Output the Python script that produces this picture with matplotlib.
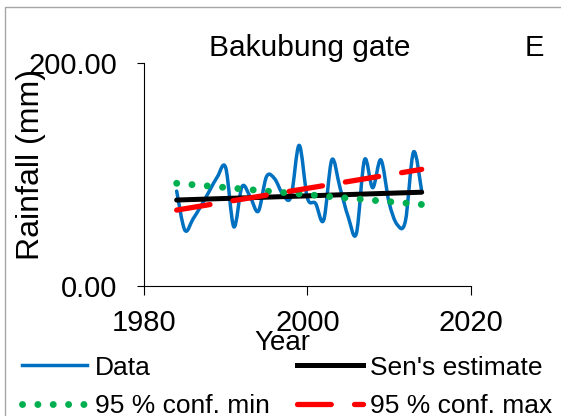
import matplotlib
matplotlib.use("Agg")
import matplotlib.pyplot as plt
from matplotlib.path import Path
from matplotlib.patches import PathPatch, Rectangle
from matplotlib.lines import Line2D

plt.rcParams['font.family'] = ['Liberation Sans', 'DejaVu Sans']

# ---- data ----
years = list(range(1984, 2015))
rainfall = [85, 50, 60, 72, 85, 98, 106, 53, 89, 80, 67, 98, 96, 82, 80, 126,
            79, 74, 59, 113, 88, 62, 47, 113, 88, 113, 75, 55, 58, 120, 85]
trend_years = [1984, 2014]
sen_estimate = [77, 84]
conf_min = [92, 73]
conf_max = [68, 104.5]
title = "Bakubung gate"
panel = "E"
x_ticks = [1980, 2000, 2020]
y_ticks = [0, 200]

W, H = 561, 416
fig = plt.figure(figsize=(W / 100, H / 100), dpi=100)
ax = fig.add_axes([144 / W, 1 - 286 / H, (470.7 - 144) / W, (286 - 62.7) / H])

# smoothed data line (Excel-like Bezier through the points)
verts = [(years[0], rainfall[0])]
codes = [Path.MOVETO]
n = len(years)
for i in range(n - 1):
    p0 = (years[max(i - 1, 0)], rainfall[max(i - 1, 0)])
    p1 = (years[i], rainfall[i])
    p2 = (years[i + 1], rainfall[i + 1])
    p3 = (years[min(i + 2, n - 1)], rainfall[min(i + 2, n - 1)])
    c1 = (p1[0] + (p2[0] - p0[0]) / 6, p1[1] + (p2[1] - p0[1]) / 6)
    c2 = (p2[0] - (p3[0] - p1[0]) / 6, p2[1] - (p3[1] - p1[1]) / 6)
    verts += [c1, c2, p2]
    codes += [Path.CURVE4] * 3
blue = '#0070C0'
green = '#00B050'
red = '#FF0000'
ax.add_patch(PathPatch(Path(verts, codes), fill=False, edgecolor=blue, lw=2.5,
                       capstyle='round', joinstyle='round', zorder=2))

ax.plot(trend_years, sen_estimate, color='black', lw=3.6, solid_capstyle='round', zorder=3)
ax.plot(trend_years, conf_min, color=green, lw=5, dashes=(0.01, 2.2),
        dash_capstyle='round', zorder=4)
ax.plot(trend_years, conf_max, color=red, lw=3.8, dashes=(6.4, 4.4),
        dash_capstyle='round', zorder=5)

ax.set_xlim(1980, 2020)
ax.set_ylim(0, 200)
ax.set_xticks(x_ticks)
ax.set_xticklabels([str(t) for t in x_ticks])
ax.set_yticks(y_ticks)
ax.set_yticklabels([f"{t:.2f}" for t in y_ticks])
for s in ['top', 'right']:
    ax.spines[s].set_visible(False)
for s in ['left', 'bottom']:
    ax.spines[s].set_linewidth(0.8)
ax.tick_params(axis='x', direction='out', length=6.5, width=0.8, labelsize=21, pad=10)
ax.tick_params(axis='y', direction='out', length=5, width=0.8, labelsize=21, pad=14)

fig.text(309.5 / W, 1 - 55.5 / H, title, ha='center', va='baseline', fontsize=21.5)
fig.text(534 / W, 1 - 55.5 / H, panel, ha='center', va='baseline', fontsize=21)
fig.text(282.5 / W, 1 - 350 / H, "Year", ha='center', va='baseline', fontsize=20)
fig.text(31 / W, 1 - 165 / H, "Rainfall (mm)", ha='center', va='center',
         rotation=90, fontsize=23)

handles = [
    Line2D([], [], color=blue, lw=2.5),
    Line2D([], [], color=green, lw=5, dashes=(0.01, 2.2), dash_capstyle='round'),
    Line2D([], [], color='black', lw=3.6),
    Line2D([], [], color=red, lw=3.8, dashes=(6.4, 4.4), dash_capstyle='round'),
]
labels = ["Data", "95 % conf. min", "Sen's estimate", "95 % conf. max"]
fig.legend(handles, labels, ncol=2, loc='center left',
           bbox_to_anchor=(21.5 / W, 1 - 386.8 / H), frameon=False, fontsize=19,
           handlelength=2.5, handletextpad=0.27, columnspacing=1.05,
           labelspacing=0.54, borderpad=0, borderaxespad=0)

fig.patches.append(Rectangle((5 / W, -0.1), 1.2, 1.1 - 7 / H, transform=fig.transFigure,
                             fill=False, edgecolor='#A6A6A6', lw=1))

fig.savefig("out.png", dpi=100)
